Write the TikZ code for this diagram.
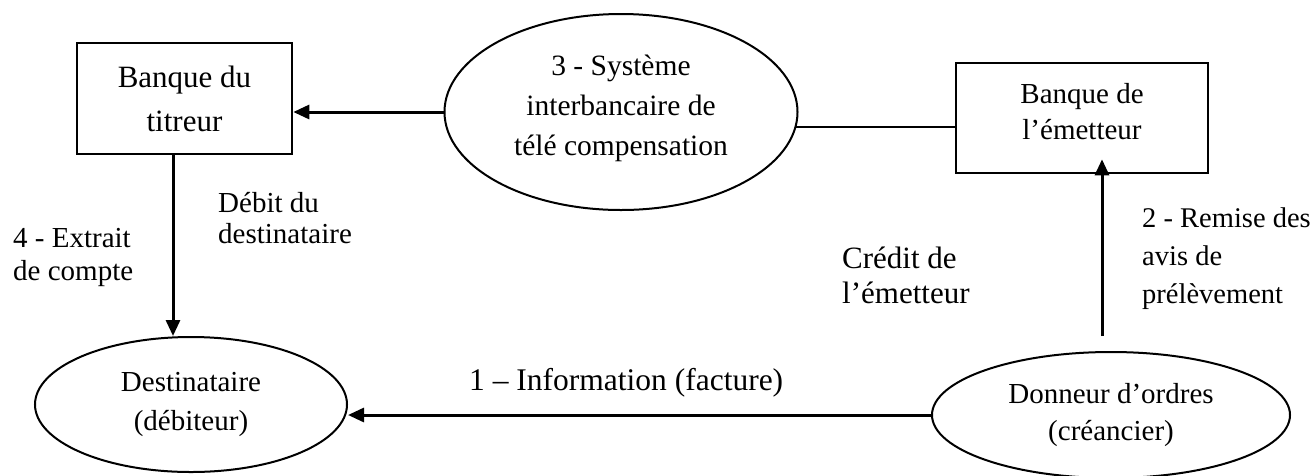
\documentclass[tikz,border=0pt]{standalone}
\usepackage{fontspec}
\setmainfont{Liberation Serif}
\usetikzlibrary{shapes.geometric,arrows.meta}
\newcommand\fsz[2]{\fontsize{#1pt}{#2pt}\selectfont}
\begin{document}
\begin{tikzpicture}[x=1pt,y=-1pt,
  box/.style={draw, line width=2.6pt, inner sep=0pt, align=center},
  oval/.style={ellipse, draw, line width=2pt, inner sep=0pt, align=center},
  lbl/.style={inner sep=0pt, align=left, anchor=base west},
  arr/.style={line width=3pt, -{Triangle[length=16pt,width=14pt]}},
  link/.style={line width=2pt}]
\useasboundingbox (0,0) rectangle (1316,475);

% banks
\node[box, minimum width=215pt, minimum height=111pt, font=\fsz{31}{44}] (tit) at (184.5,98.5) {Banque du\\titreur};
\node[box, minimum width=252pt, minimum height=110pt, font=\fsz{29}{36}, text depth=14pt] (emb) at (1082,118) {Banque de\\l’émetteur};

% clearing system and the two parties
\node[oval, minimum width=353pt, minimum height=196pt, font=\fsz{29.5}{40}, text depth=14pt] (tcs) at (621,112) {3 - Système\\interbancaire de\\télé compensation};
\node[oval, minimum width=312pt, minimum height=135pt, font=\fsz{29}{39}] (dst) at (191,404.5) {Destinataire\\(débiteur)};
\node[oval, minimum width=358pt, minimum height=126pt, font=\fsz{29}{37}] (don) at (1111,415) {Donneur d’ordres\\(créancier)};

% flow labels (placed by the baseline of their last line)
\node[lbl, font=\fsz{29}{31}] (ldeb) at (218,243) {Débit du\\destinataire};
\node[lbl, font=\fsz{29}{33}] (lext) at (13,280) {4 - Extrait\\de compte};
\node[lbl, font=\fsz{31}{35}] (lcre) at (842,303) {Crédit de\\l’émetteur};
\node[lbl, font=\fsz{28.5}{38}] (lrem) at (1142,303) {2 - Remise des\\avis de\\prélèvement};
\node[lbl, font=\fsz{31.5}{36}] (linf) at (469,390) {1 – Information (facture)};

% flows
\draw[arr] (tcs.west) -- (tcs.west -| tit.east);
\draw[link] (tcs.-5) -- (tcs.-5 -| emb.west);
\draw[arr] ([xshift=-11.5pt]tit.south) -- ([xshift=-11.5pt]tit.south |- dst.north);
\draw[arr] ([xshift=-9pt,yshift=15pt]don.north) -- ([xshift=-9pt,yshift=15pt]don.north |- emb.south);
\draw[arr] (don.west) -- (don.west -| dst.east);
\end{tikzpicture}
\end{document}
